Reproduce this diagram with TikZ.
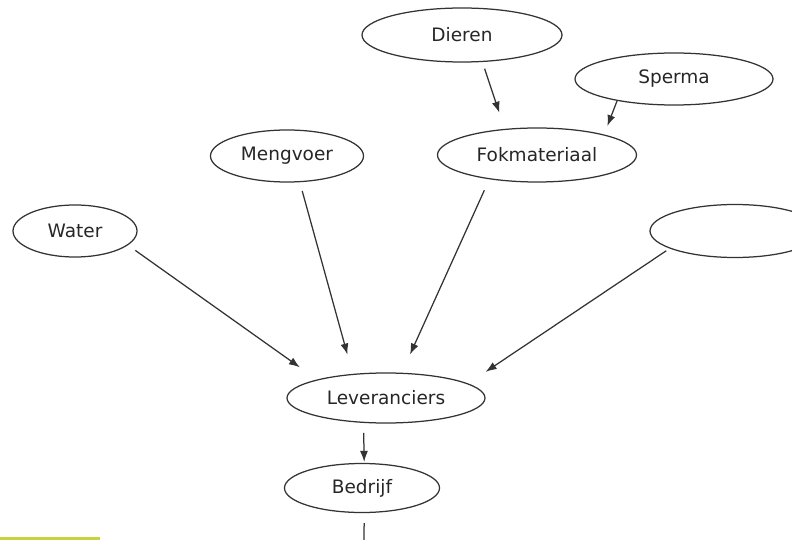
\documentclass[tikz,border=0pt]{standalone}
\usepackage{fontspec}
\setmainfont{DejaVu Sans}
\usetikzlibrary{shapes.geometric, arrows.meta}
\definecolor{markgroen}{RGB}{200,210,60}

\begin{document}
\begin{tikzpicture}[
    x=1pt, y=-1pt,
    font=\fontsize{18.5}{21}\selectfont,
    bol/.style={draw=black!80, ellipse, line width=1.25pt, inner sep=0pt, text=black!85},
    pijl/.style={-{Latex[length=11pt, width=8pt]}, line width=1.25pt, draw=black!80},
    lijn/.style={line width=1.25pt, draw=black!80}
]
    \useasboundingbox (0,0) rectangle (792,540);
    \clip (0,0) rectangle (792,540);

    % Components
    \node[bol, minimum width=200pt, minimum height=54pt] (dieren) at (462,35) {Dieren};
    \node[bol, minimum width=198pt, minimum height=52pt] (sperma) at (674,79) {Sperma};
    \node[bol, minimum width=153pt, minimum height=52pt] (mengvoer) at (287,156) {Mengvoer};
    \node[bol, minimum width=199pt, minimum height=54pt] (fokmat) at (537,155) {Fokmateriaal};
    \node[bol, minimum width=124pt, minimum height=52pt] (water) at (75,231) {Water};
    \node[bol, minimum width=170pt, minimum height=53pt] (leeg) at (735,231) {};
    \node[bol, minimum width=198pt, minimum height=50pt] (lev) at (386,398) {Leveranciers};
    \node[bol, minimum width=155pt, minimum height=49pt] (bedrijf) at (362,488) {Bedrijf};

    % Connections
    \draw[pijl, shorten <=7pt, shorten >=17pt] (dieren.-53) -- (fokmat.141);
    \draw[pijl, shorten >=9pt] (sperma.-159) -- (fokmat.17);
    \draw[pijl, shorten <=9pt, shorten >=21pt] (water.-15) -- (lev.165);
    \draw[pijl, shorten <=9pt, shorten >=20pt] (mengvoer.-64) -- (lev.144);
    \draw[pijl, shorten <=12pt, shorten >=20pt] (fokmat.-153) -- (lev.58);
    \draw[pijl, shorten <=4pt, shorten >=21pt] (leeg.-165) -- (lev.10);
    \draw[pijl, shorten <=10pt, shorten >=1pt] (lev.-132) -- (bedrijf.85);

    % Line out of the picture
    \coordinate (uit) at (364,548);
    \draw[lijn, shorten <=10pt] (bedrijf.-85) -- (uit);

    % Marker bottom left
    \fill[markgroen] (0,537) rectangle (100,540);

\end{tikzpicture}
\end{document}
